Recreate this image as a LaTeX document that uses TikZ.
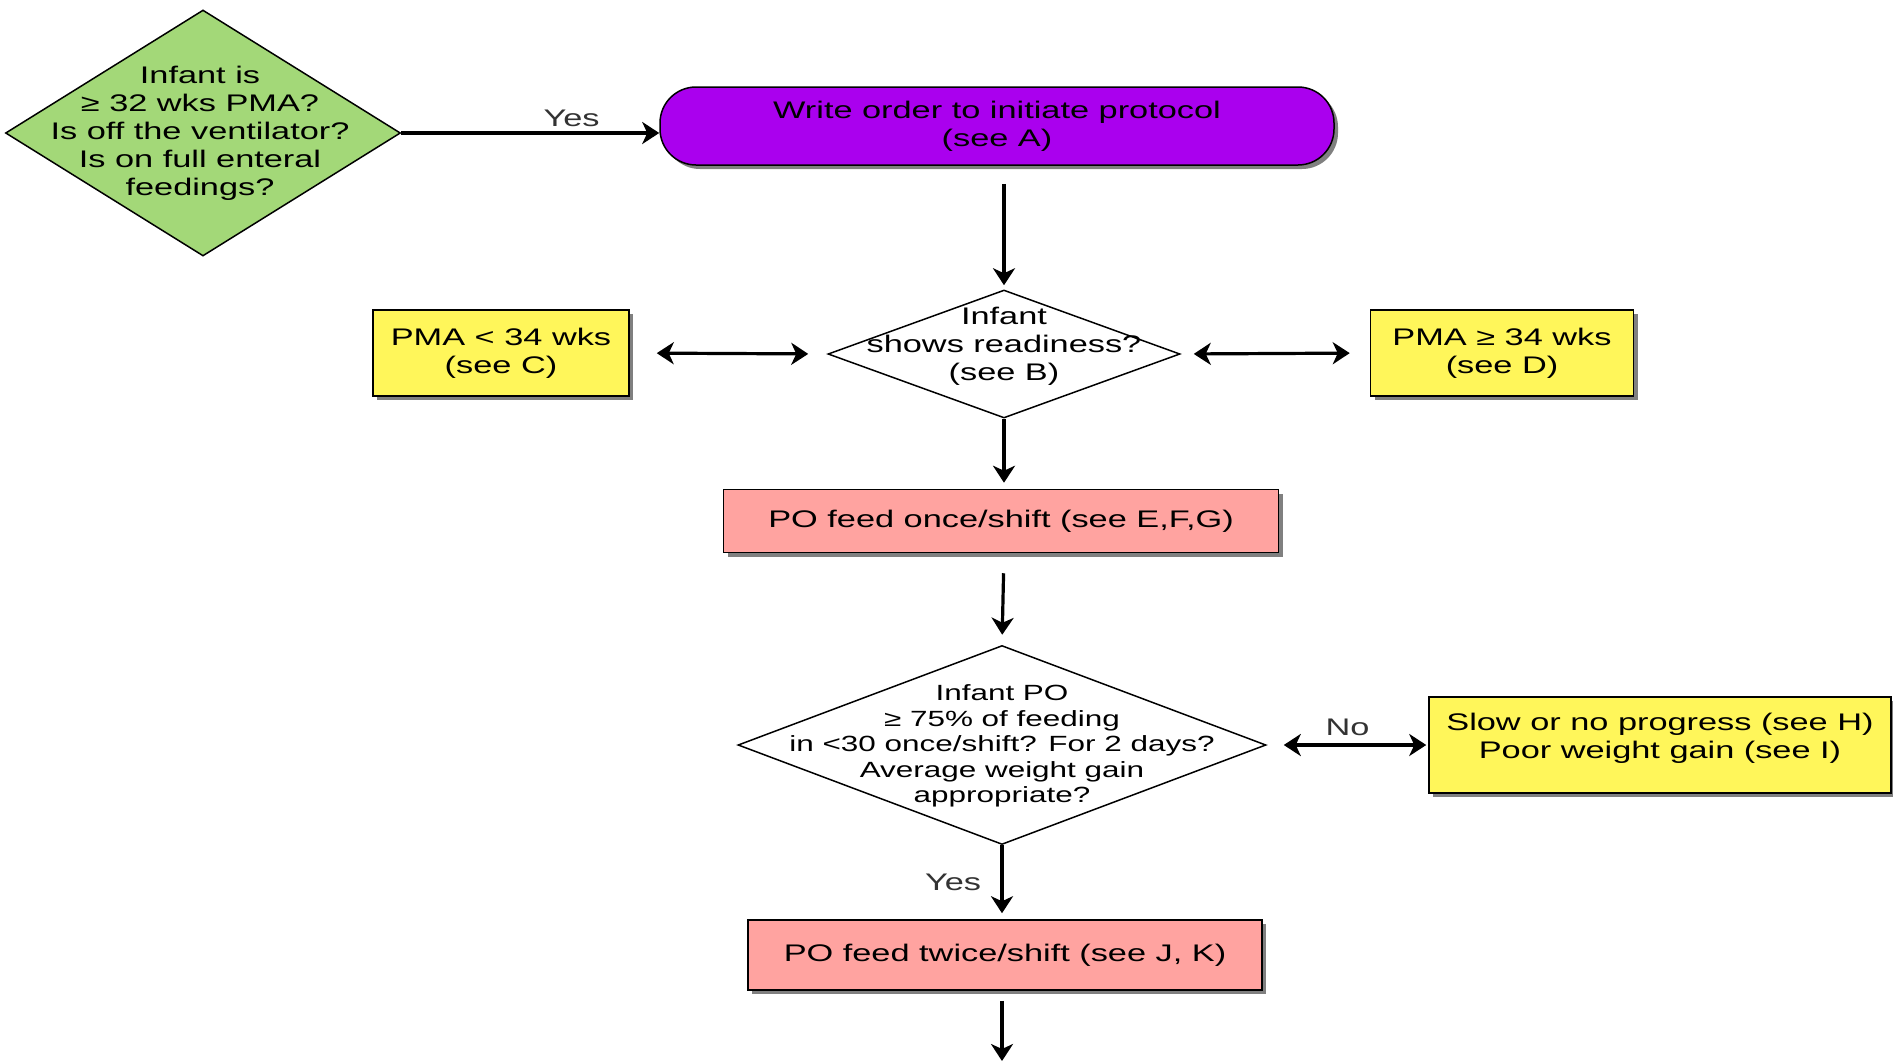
\documentclass[tikz,border=0pt]{standalone}
\usepackage{fontspec}
\setmainfont[FakeStretch=1.43]{Liberation Sans}
\usetikzlibrary{shapes.geometric,shadows,arrows.meta}
\definecolor{dgreen}{RGB}{163,216,120}
\definecolor{dpurple}{RGB}{170,0,238}
\definecolor{dyellow}{RGB}{255,246,90}
\definecolor{dpink}{RGB}{255,163,160}
\begin{document}
\begin{tikzpicture}[x=1pt,y=-1pt,
 txt/.style={font=\fontsize{24}{28}\selectfont, align=center, text=black},
 stxt/.style={font=\fontsize{22}{25.4}\selectfont, align=center, text=black},
 shad/.style={drop shadow={shadow xshift=4pt,shadow yshift=-4pt,fill=gray,opacity=1}},
 ybox/.style={rectangle, draw=black, line width=1.5pt, fill=dyellow, shad, txt, inner sep=0pt},
 pkbox/.style={rectangle, draw=black, line width=1.5pt, fill=dpink, shad, txt, inner sep=0pt},
 diam/.style={diamond, draw=black, line width=1.5pt, inner sep=0pt},
 arr/.style={line width=3.2pt, -{Stealth[length=17pt,width=22pt,inset=5pt]}},
 darr/.style={line width=3.2pt, {Stealth[length=17pt,width=22pt,inset=5pt]}-{Stealth[length=17pt,width=22pt,inset=5pt]}},
 lbl/.style={font=\fontsize{24}{28}\selectfont, text=black!80}
]
\useasboundingbox (0,0) rectangle (1893,1061);
\fill[white] (0,0) rectangle (1893,1061);

% first decision
\node[diam, fill=dgreen, minimum width=395pt, minimum height=246pt] (d1) at (203,133) {};
\node[txt] (t1) at (200,133) {Infant is\\≥ 32 wks PMA?\\Is off the ventilator?\\Is on full enteral\\feedings?};

% write order
\node[rectangle, rounded corners=36pt, draw=black, line width=1.5pt, fill=dpurple, shad, txt,
      inner sep=0pt, minimum width=674pt, minimum height=78pt] (w) at (997,126)
      {Write order to initiate protocol\\(see A)};

% readiness
\node[diam, fill=white, minimum width=352pt, minimum height=128pt] (d2) at (1004,354) {};
\node[txt] (t2) at (1004,346) {Infant\\shows readiness?\\(see B)};

\node[ybox, minimum width=256pt, minimum height=86pt] (c) at (501,353) {PMA < 34 wks\\(see C)};
\node[ybox, minimum width=263pt, minimum height=86pt] (dd) at (1502,353) {PMA ≥ 34 wks\\(see D)};

\node[pkbox, minimum width=555pt, minimum height=63pt] (po1) at (1001,521) {PO feed once/shift (see E,F,G)};

% big decision
\node[diam, fill=white, minimum width=528pt, minimum height=199pt] (d3) at (1002,745) {};
\node[stxt] (t3) at (1002,746) {Infant PO\\≥ 75\% of feeding\\in <30 once/shift? For 2 days?\\Average weight gain\\appropriate?};

\node[ybox, minimum width=462pt, minimum height=96pt] (sl) at (1660,745)
  {Slow or no progress (see H)\\Poor weight gain (see I)\\[-10pt]\mbox{}};

\node[pkbox, minimum width=514pt, minimum height=70pt] (po2) at (1005,955) {PO feed twice/shift (see J, K)};
\coordinate (fin) at (1003,1061);

% connectors
\draw[arr] (d1.east) -- (d1.east -| w.west) node[pos=0.66, above=1pt, lbl] {Yes};
\draw[arr, shorten <=18pt, shorten >=4pt] (w.south -| d2.north) -- (d2.north);
\draw[darr, shorten <=27pt, shorten >=19pt] (c.east) -- (d2.west);
\draw[darr, shorten <=13pt, shorten >=20pt] (d2.east) -- (dd.west);
\draw[arr, shorten >=6pt] (d2.south) -- (d2.south |- po1.north);
\draw[arr, shorten <=20pt, shorten >=10pt] (d2.south |- po1.south) -- (d3.north);
\draw[darr, shorten <=17pt, shorten >=2pt] (d3.east) -- (sl.west) node[midway, above=4pt, lbl] {No};
\draw[arr, shorten >=6pt] (d3.south) -- (d3.south |- po2.north) node[midway, left=16pt, lbl] {Yes};
\draw[arr, shorten <=10pt] (d3.south |- po2.south) -- (d3.south |- fin);
\end{tikzpicture}
\end{document}
